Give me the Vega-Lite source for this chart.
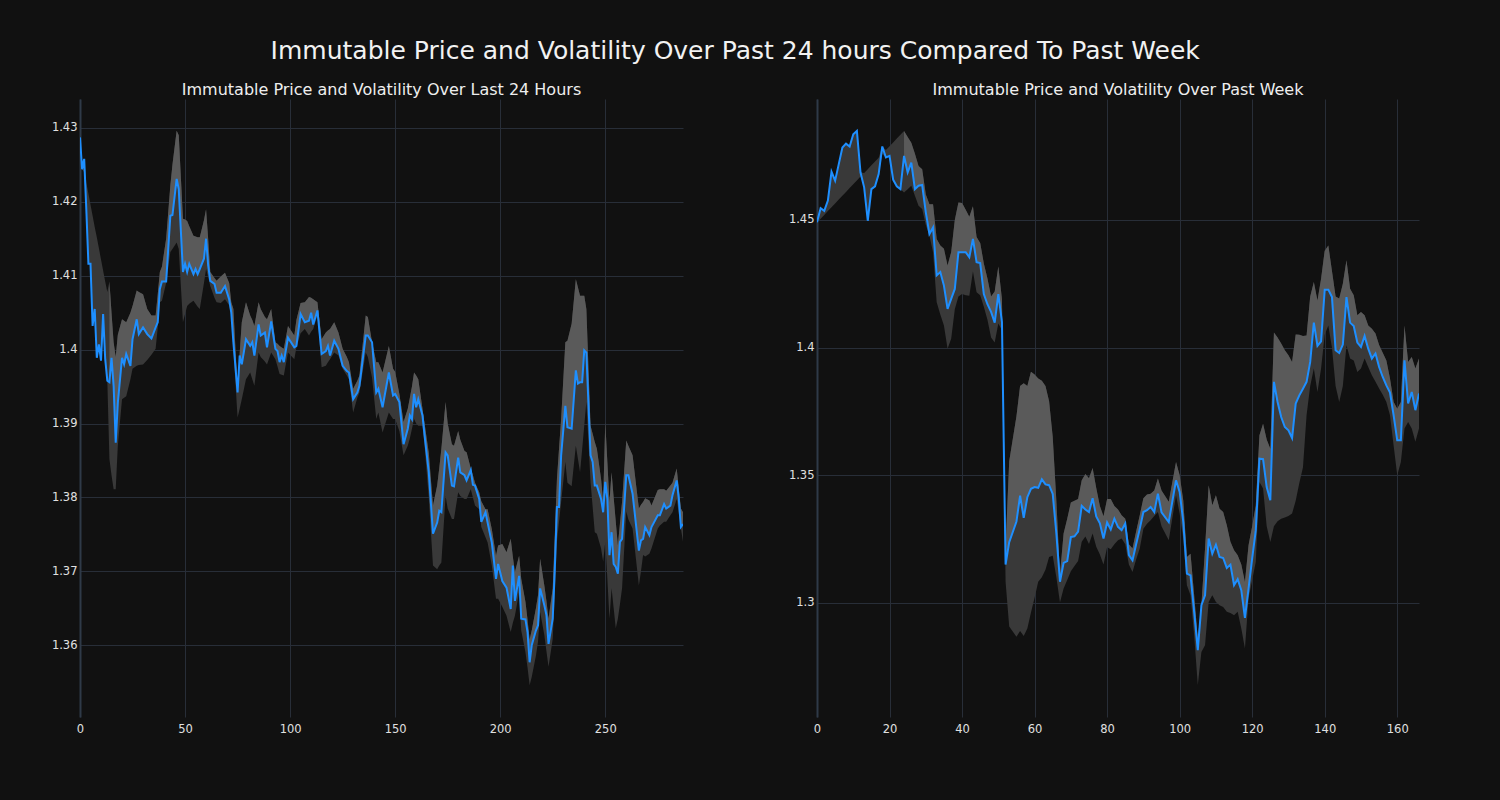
{
"$schema": "https://vega.github.io/schema/vega-lite/v6.json",
"background": "#111111",
"padding": {"left": 51, "top": 39, "right": 81, "bottom": 65},
"title": {"text": "Immutable Price and Volatility Over Past 24 hours Compared To Past Week", "fontSize": 25, "color": "#f2f2f2", "font": "DejaVu Sans", "fontWeight": "normal", "anchor": "middle", "offset": 18},
"config": {
  "view": {"stroke": null},
  "font": "DejaVu Sans",
  "axis": {"grid": true, "gridColor": "#282e38", "gridWidth": 1, "ticks": false, "labelColor": "#e0e0e0", "labelFontSize": 11.5, "labelPadding": 3, "domain": false, "title": null, "labelFont": "DejaVu Sans"},
  "axisX": {"labelPadding": 6},
  "axisY": {"domain": true, "domainColor": "#2f3a48", "domainWidth": 2},
  "title": {"font": "DejaVu Sans", "fontWeight": "normal", "color": "#eeeeee"}
},
"bounds": "flush",
"spacing": 134,
"hconcat": [
{
  "width": 603, "height": 618,
  "title": {"text": "Immutable Price and Volatility Over Last 24 Hours", "fontSize": 16, "offset": 1},
  "data": {"name": "day"},
  "layer": [
    {"mark": {"type": "area", "color": "#393939", "clip": true},
     "encoding": {
       "x": {"field": "i", "type": "quantitative", "scale": {"domain": [0, 287], "nice": false, "zero": false}, "axis": {"values": [0, 50, 100, 150, 200, 250], "labelFlush": false, "title": null}},
       "y": {"field": "lo", "type": "quantitative", "scale": {"domain": [1.3503, 1.4339], "nice": false, "zero": false}, "axis": {"values": [1.36, 1.37, 1.38, 1.39, 1.4, 1.41, 1.42, 1.43], "format": "~g", "title": null}},
       "y2": {"field": "hi"}}},
    {"transform": [{"filter": "datum.i >= 14"}],
     "mark": {"type": "area", "color": "#5a5a5a", "clip": true},
     "encoding": {
       "x": {"field": "i", "type": "quantitative", "title": null},
       "y": {"field": "p", "type": "quantitative", "title": null},
       "y2": {"field": "hi"}}},
    {"mark": {"type": "line", "color": "#1e8fff", "strokeWidth": 2, "clip": true},
     "encoding": {
       "x": {"field": "i", "type": "quantitative", "title": null},
       "y": {"field": "p", "type": "quantitative", "title": null}}}
  ]
},
{
  "width": 602, "height": 618,
  "title": {"text": "Immutable Price and Volatility Over Past Week", "fontSize": 16, "offset": 1},
  "data": {"name": "week"},
  "layer": [
    {"mark": {"type": "area", "color": "#393939", "clip": true},
     "encoding": {
       "x": {"field": "i", "type": "quantitative", "scale": {"domain": [0, 166], "nice": false, "zero": false}, "axis": {"values": [0, 20, 40, 60, 80, 100, 120, 140, 160], "labelFlush": false, "title": null}},
       "y": {"field": "lo", "type": "quantitative", "scale": {"domain": [1.2553, 1.4974], "nice": false, "zero": false}, "axis": {"values": [1.3, 1.35, 1.4, 1.45], "format": "~g", "title": null}},
       "y2": {"field": "hi"}}},
    {"transform": [{"filter": "datum.i >= 24"}],
     "mark": {"type": "area", "color": "#5a5a5a", "clip": true},
     "encoding": {
       "x": {"field": "i", "type": "quantitative", "title": null},
       "y": {"field": "p", "type": "quantitative", "title": null},
       "y2": {"field": "hi"}}},
    {"mark": {"type": "line", "color": "#1e8fff", "strokeWidth": 2, "clip": true},
     "encoding": {
       "x": {"field": "i", "type": "quantitative", "title": null},
       "y": {"field": "p", "type": "quantitative", "title": null}}}
  ]
}
],
"datasets": {
"day": [
{"i":0,"p":1.4287,"lo":1.4287,"hi":1.4287},
{"i":1,"p":1.4244,"lo":1.4244,"hi":1.4255},
{"i":2,"p":1.4258,"lo":1.4240,"hi":1.4258},
{"i":3,"p":1.4190,"lo":1.4190,"hi":1.4226},
{"i":4,"p":1.4116,"lo":1.4116,"hi":1.4211},
{"i":5,"p":1.4116,"lo":1.4116,"hi":1.4196},
{"i":6,"p":1.4032,"lo":1.4032,"hi":1.4181},
{"i":7,"p":1.4055,"lo":1.4055,"hi":1.4166},
{"i":8,"p":1.3989,"lo":1.3989,"hi":1.4152},
{"i":9,"p":1.4007,"lo":1.4007,"hi":1.4137},
{"i":10,"p":1.3985,"lo":1.3985,"hi":1.4122},
{"i":11,"p":1.4048,"lo":1.4048,"hi":1.4107},
{"i":12,"p":1.3987,"lo":1.3987,"hi":1.4092},
{"i":13,"p":1.3958,"lo":1.3958,"hi":1.4078},
{"i":14,"p":1.3956,"lo":1.3852,"hi":1.4092},
{"i":15,"p":1.3989,"lo":1.3830,"hi":1.4050},
{"i":16,"p":1.3951,"lo":1.3811,"hi":1.4010},
{"i":17,"p":1.3874,"lo":1.3811,"hi":1.3990},
{"i":18,"p":1.3928,"lo":1.3870,"hi":1.4020},
{"i":20,"p":1.3989,"lo":1.3933,"hi":1.4041},
{"i":21,"p":1.3980,"lo":1.3935,"hi":1.4039},
{"i":22,"p":1.3994,"lo":1.3937,"hi":1.4037},
{"i":24,"p":1.3978,"lo":1.3960,"hi":1.4050},
{"i":25,"p":1.4014,"lo":1.3974,"hi":1.4059},
{"i":27,"p":1.4041,"lo":1.3978,"hi":1.4080},
{"i":28,"p":1.4021,"lo":1.3979,"hi":1.4078},
{"i":30,"p":1.4030,"lo":1.3980,"hi":1.4075},
{"i":32,"p":1.4021,"lo":1.3986,"hi":1.4055},
{"i":34,"p":1.4015,"lo":1.3993,"hi":1.4046},
{"i":36,"p":1.4030,"lo":1.4001,"hi":1.4046},
{"i":37,"p":1.4037,"lo":1.4030,"hi":1.4075},
{"i":38,"p":1.4082,"lo":1.4064,"hi":1.4105},
{"i":39,"p":1.4092,"lo":1.4066,"hi":1.4112},
{"i":41,"p":1.4092,"lo":1.4090,"hi":1.4150},
{"i":43,"p":1.4181,"lo":1.4132,"hi":1.4222},
{"i":44,"p":1.4182,"lo":1.4136,"hi":1.4250},
{"i":46,"p":1.4231,"lo":1.4145,"hi":1.4296},
{"i":47,"p":1.4217,"lo":1.4136,"hi":1.4290},
{"i":49,"p":1.4105,"lo":1.4037,"hi":1.4177},
{"i":50,"p":1.4116,"lo":1.4048,"hi":1.4176},
{"i":51,"p":1.4105,"lo":1.4059,"hi":1.4174},
{"i":52,"p":1.4116,"lo":1.4062,"hi":1.4167},
{"i":54,"p":1.4102,"lo":1.4066,"hi":1.4154},
{"i":55,"p":1.4109,"lo":1.4062,"hi":1.4153},
{"i":56,"p":1.4102,"lo":1.4058,"hi":1.4152},
{"i":57,"p":1.4109,"lo":1.4055,"hi":1.4152},
{"i":59,"p":1.4123,"lo":1.4090,"hi":1.4175},
{"i":60,"p":1.4150,"lo":1.4109,"hi":1.4190},
{"i":61,"p":1.4114,"lo":1.4098,"hi":1.4150},
{"i":62,"p":1.4093,"lo":1.4086,"hi":1.4105},
{"i":64,"p":1.4089,"lo":1.4070,"hi":1.4097},
{"i":65,"p":1.4077,"lo":1.4064,"hi":1.4093},
{"i":67,"p":1.4077,"lo":1.4063,"hi":1.4099},
{"i":69,"p":1.4086,"lo":1.4068,"hi":1.4104},
{"i":71,"p":1.4068,"lo":1.4060,"hi":1.4090},
{"i":72,"p":1.4050,"lo":1.4046,"hi":1.4064},
{"i":73,"p":1.4010,"lo":1.4001,"hi":1.4055},
{"i":75,"p":1.3942,"lo":1.3908,"hi":1.3947},
{"i":76,"p":1.3992,"lo":1.3920,"hi":1.3995},
{"i":77,"p":1.3980,"lo":1.3933,"hi":1.4037},
{"i":79,"p":1.4014,"lo":1.3960,"hi":1.4064},
{"i":81,"p":1.4005,"lo":1.3969,"hi":1.4046},
{"i":82,"p":1.4010,"lo":1.3960,"hi":1.4040},
{"i":83,"p":1.3992,"lo":1.3951,"hi":1.4032},
{"i":85,"p":1.4034,"lo":1.3996,"hi":1.4064},
{"i":86,"p":1.4019,"lo":1.3990,"hi":1.4055},
{"i":88,"p":1.4023,"lo":1.3984,"hi":1.4044},
{"i":89,"p":1.4003,"lo":1.3980,"hi":1.4041},
{"i":91,"p":1.4038,"lo":1.3996,"hi":1.4055},
{"i":93,"p":1.4001,"lo":1.3987,"hi":1.4010},
{"i":94,"p":1.3998,"lo":1.3977,"hi":1.4008},
{"i":95,"p":1.3983,"lo":1.3967,"hi":1.4005},
{"i":96,"p":1.3992,"lo":1.3966,"hi":1.4003},
{"i":97,"p":1.3983,"lo":1.3965,"hi":1.4001},
{"i":99,"p":1.4016,"lo":1.3996,"hi":1.4032},
{"i":102,"p":1.4003,"lo":1.3987,"hi":1.4019},
{"i":103,"p":1.4005,"lo":1.4003,"hi":1.4040},
{"i":105,"p":1.4048,"lo":1.4022,"hi":1.4063},
{"i":107,"p":1.4037,"lo":1.4028,"hi":1.4064},
{"i":109,"p":1.4039,"lo":1.4019,"hi":1.4071},
{"i":110,"p":1.4050,"lo":1.4024,"hi":1.4070},
{"i":111,"p":1.4034,"lo":1.4028,"hi":1.4068},
{"i":113,"p":1.4053,"lo":1.4046,"hi":1.4064},
{"i":115,"p":1.3994,"lo":1.3976,"hi":1.4014},
{"i":117,"p":1.3998,"lo":1.3978,"hi":1.4023},
{"i":118,"p":1.4005,"lo":1.3983,"hi":1.4026},
{"i":119,"p":1.3992,"lo":1.3987,"hi":1.4028},
{"i":121,"p":1.4012,"lo":1.3996,"hi":1.4037},
{"i":123,"p":1.4001,"lo":1.3992,"hi":1.4023},
{"i":125,"p":1.3978,"lo":1.3974,"hi":1.4001},
{"i":127,"p":1.3971,"lo":1.3965,"hi":1.3990},
{"i":128,"p":1.3969,"lo":1.3960,"hi":1.3983},
{"i":130,"p":1.3933,"lo":1.3915,"hi":1.3947},
{"i":132,"p":1.3942,"lo":1.3935,"hi":1.3958},
{"i":133,"p":1.3951,"lo":1.3942,"hi":1.3965},
{"i":136,"p":1.4019,"lo":1.3996,"hi":1.4046},
{"i":137,"p":1.4019,"lo":1.3990,"hi":1.4044},
{"i":139,"p":1.4010,"lo":1.3962,"hi":1.4010},
{"i":141,"p":1.3942,"lo":1.3906,"hi":1.3983},
{"i":142,"p":1.3947,"lo":1.3915,"hi":1.3983},
{"i":144,"p":1.3922,"lo":1.3888,"hi":1.3969},
{"i":147,"p":1.3969,"lo":1.3915,"hi":1.4005},
{"i":149,"p":1.3938,"lo":1.3906,"hi":1.3974},
{"i":150,"p":1.3940,"lo":1.3906,"hi":1.3970},
{"i":152,"p":1.3929,"lo":1.3890,"hi":1.3940},
{"i":154,"p":1.3872,"lo":1.3857,"hi":1.3902},
{"i":156,"p":1.3893,"lo":1.3870,"hi":1.3920},
{"i":157,"p":1.3911,"lo":1.3880,"hi":1.3935},
{"i":158,"p":1.3906,"lo":1.3893,"hi":1.3950},
{"i":159,"p":1.3940,"lo":1.3906,"hi":1.3969},
{"i":160,"p":1.3922,"lo":1.3900,"hi":1.3965},
{"i":161,"p":1.3933,"lo":1.3897,"hi":1.3960},
{"i":163,"p":1.3911,"lo":1.3897,"hi":1.3920},
{"i":164,"p":1.3884,"lo":1.3870,"hi":1.3900},
{"i":166,"p":1.3834,"lo":1.3800,"hi":1.3860},
{"i":168,"p":1.3751,"lo":1.3708,"hi":1.3789},
{"i":170,"p":1.3766,"lo":1.3703,"hi":1.3816},
{"i":171,"p":1.3782,"lo":1.3708,"hi":1.3840},
{"i":172,"p":1.3780,"lo":1.3712,"hi":1.3866},
{"i":174,"p":1.3861,"lo":1.3802,"hi":1.3929},
{"i":175,"p":1.3857,"lo":1.3785,"hi":1.3900},
{"i":177,"p":1.3816,"lo":1.3771,"hi":1.3872},
{"i":178,"p":1.3815,"lo":1.3771,"hi":1.3870},
{"i":180,"p":1.3854,"lo":1.3807,"hi":1.3890},
{"i":181,"p":1.3834,"lo":1.3802,"hi":1.3878},
{"i":183,"p":1.3830,"lo":1.3798,"hi":1.3863},
{"i":184,"p":1.3823,"lo":1.3798,"hi":1.3861},
{"i":186,"p":1.3837,"lo":1.3811,"hi":1.3839},
{"i":187,"p":1.3817,"lo":1.3800,"hi":1.3830},
{"i":188,"p":1.3816,"lo":1.3789,"hi":1.3820},
{"i":190,"p":1.3798,"lo":1.3784,"hi":1.3807},
{"i":191,"p":1.3767,"lo":1.3760,"hi":1.3795},
{"i":193,"p":1.3780,"lo":1.3746,"hi":1.3784},
{"i":194,"p":1.3766,"lo":1.3739,"hi":1.3784},
{"i":196,"p":1.3739,"lo":1.3708,"hi":1.3757},
{"i":198,"p":1.3690,"lo":1.3663,"hi":1.3721},
{"i":199,"p":1.3710,"lo":1.3663,"hi":1.3735},
{"i":201,"p":1.3687,"lo":1.3652,"hi":1.3737},
{"i":203,"p":1.3678,"lo":1.3640,"hi":1.3726},
{"i":205,"p":1.3649,"lo":1.3618,"hi":1.3744},
{"i":206,"p":1.3708,"lo":1.3630,"hi":1.3720},
{"i":207,"p":1.3660,"lo":1.3640,"hi":1.3699},
{"i":209,"p":1.3694,"lo":1.3672,"hi":1.3721},
{"i":210,"p":1.3636,"lo":1.3620,"hi":1.3690},
{"i":212,"p":1.3635,"lo":1.3591,"hi":1.3659},
{"i":213,"p":1.3618,"lo":1.3570,"hi":1.3635},
{"i":214,"p":1.3577,"lo":1.3546,"hi":1.3608},
{"i":215,"p":1.3600,"lo":1.3557,"hi":1.3620},
{"i":217,"p":1.3620,"lo":1.3586,"hi":1.3650},
{"i":218,"p":1.3627,"lo":1.3605,"hi":1.3668},
{"i":219,"p":1.3677,"lo":1.3645,"hi":1.3717},
{"i":221,"p":1.3654,"lo":1.3614,"hi":1.3681},
{"i":222,"p":1.3641,"lo":1.3592,"hi":1.3660},
{"i":223,"p":1.3602,"lo":1.3571,"hi":1.3636},
{"i":225,"p":1.3636,"lo":1.3609,"hi":1.3677},
{"i":226,"p":1.3704,"lo":1.3670,"hi":1.3750},
{"i":227,"p":1.3787,"lo":1.3740,"hi":1.3825},
{"i":228,"p":1.3787,"lo":1.3767,"hi":1.3866},
{"i":229,"p":1.3857,"lo":1.3794,"hi":1.3906},
{"i":231,"p":1.3924,"lo":1.3848,"hi":1.4010},
{"i":232,"p":1.3895,"lo":1.3820,"hi":1.4012},
{"i":234,"p":1.3893,"lo":1.3815,"hi":1.4035},
{"i":236,"p":1.3972,"lo":1.3870,"hi":1.4095},
{"i":237,"p":1.3954,"lo":1.3852,"hi":1.4084},
{"i":238,"p":1.3956,"lo":1.3834,"hi":1.4073},
{"i":239,"p":1.3956,"lo":1.3865,"hi":1.4073},
{"i":240,"p":1.3999,"lo":1.3897,"hi":1.4073},
{"i":241,"p":1.3996,"lo":1.3929,"hi":1.4055},
{"i":243,"p":1.3857,"lo":1.3821,"hi":1.3897},
{"i":244,"p":1.3848,"lo":1.3787,"hi":1.3886},
{"i":245,"p":1.3816,"lo":1.3753,"hi":1.3875},
{"i":246,"p":1.3816,"lo":1.3751,"hi":1.3866},
{"i":248,"p":1.3798,"lo":1.3731,"hi":1.3825},
{"i":249,"p":1.3780,"lo":1.3713,"hi":1.3794},
{"i":250,"p":1.3821,"lo":1.3740,"hi":1.3902},
{"i":251,"p":1.3798,"lo":1.3690,"hi":1.3848},
{"i":252,"p":1.3722,"lo":1.3636,"hi":1.3794},
{"i":253,"p":1.3753,"lo":1.3677,"hi":1.3834},
{"i":254,"p":1.3710,"lo":1.3650,"hi":1.3800},
{"i":255,"p":1.3706,"lo":1.3623,"hi":1.3767},
{"i":256,"p":1.3697,"lo":1.3636,"hi":1.3735},
{"i":257,"p":1.3740,"lo":1.3656,"hi":1.3765},
{"i":258,"p":1.3744,"lo":1.3677,"hi":1.3794},
{"i":260,"p":1.3830,"lo":1.3781,"hi":1.3877},
{"i":261,"p":1.3830,"lo":1.3770,"hi":1.3870},
{"i":263,"p":1.3805,"lo":1.3758,"hi":1.3857},
{"i":266,"p":1.3728,"lo":1.3681,"hi":1.3785},
{"i":267,"p":1.3742,"lo":1.3700,"hi":1.3790},
{"i":268,"p":1.3744,"lo":1.3722,"hi":1.3794},
{"i":269,"p":1.3760,"lo":1.3720,"hi":1.3799},
{"i":271,"p":1.3749,"lo":1.3724,"hi":1.3796},
{"i":272,"p":1.3760,"lo":1.3731,"hi":1.3789},
{"i":275,"p":1.3776,"lo":1.3758,"hi":1.3810},
{"i":276,"p":1.3776,"lo":1.3762,"hi":1.3811},
{"i":278,"p":1.3791,"lo":1.3767,"hi":1.3811},
{"i":279,"p":1.3785,"lo":1.3767,"hi":1.3809},
{"i":281,"p":1.3789,"lo":1.3776,"hi":1.3816},
{"i":282,"p":1.3803,"lo":1.3780,"hi":1.3820},
{"i":284,"p":1.3823,"lo":1.3798,"hi":1.3839},
{"i":285,"p":1.3798,"lo":1.3778,"hi":1.3812},
{"i":286,"p":1.3760,"lo":1.3758,"hi":1.3785},
{"i":287,"p":1.3764,"lo":1.3740,"hi":1.3780}
],
"week": [
{"i":0,"p":1.4491,"lo":1.4490,"hi":1.4491},
{"i":1,"p":1.4546,"lo":1.4505,"hi":1.4546},
{"i":2,"p":1.4536,"lo":1.4520,"hi":1.4536},
{"i":3,"p":1.4576,"lo":1.4535,"hi":1.4576},
{"i":4,"p":1.4689,"lo":1.4550,"hi":1.4689},
{"i":5,"p":1.4654,"lo":1.4565,"hi":1.4654},
{"i":6,"p":1.4719,"lo":1.4580,"hi":1.4719},
{"i":7,"p":1.4784,"lo":1.4595,"hi":1.4784},
{"i":8,"p":1.4799,"lo":1.4610,"hi":1.4799},
{"i":9,"p":1.4788,"lo":1.4625,"hi":1.4788},
{"i":10,"p":1.4836,"lo":1.4640,"hi":1.4836},
{"i":11,"p":1.4849,"lo":1.4655,"hi":1.4849},
{"i":12,"p":1.4686,"lo":1.4670,"hi":1.4686},
{"i":13,"p":1.4628,"lo":1.4628,"hi":1.4684},
{"i":14,"p":1.4497,"lo":1.4497,"hi":1.4699},
{"i":15,"p":1.4621,"lo":1.4621,"hi":1.4714},
{"i":16,"p":1.4632,"lo":1.4632,"hi":1.4729},
{"i":17,"p":1.4680,"lo":1.4680,"hi":1.4744},
{"i":18,"p":1.4788,"lo":1.4759,"hi":1.4788},
{"i":19,"p":1.4745,"lo":1.4745,"hi":1.4774},
{"i":20,"p":1.4751,"lo":1.4751,"hi":1.4789},
{"i":21,"p":1.4658,"lo":1.4658,"hi":1.4804},
{"i":22,"p":1.4632,"lo":1.4632,"hi":1.4819},
{"i":23,"p":1.4621,"lo":1.4621,"hi":1.4834},
{"i":24,"p":1.4751,"lo":1.4608,"hi":1.4849},
{"i":25,"p":1.4686,"lo":1.4620,"hi":1.4825},
{"i":26,"p":1.4725,"lo":1.4634,"hi":1.4803},
{"i":27,"p":1.4621,"lo":1.4595,"hi":1.4760},
{"i":28,"p":1.4634,"lo":1.4556,"hi":1.4712},
{"i":29,"p":1.4637,"lo":1.4543,"hi":1.4699},
{"i":30,"p":1.4530,"lo":1.4480,"hi":1.4600},
{"i":31,"p":1.4445,"lo":1.4439,"hi":1.4562},
{"i":32,"p":1.4471,"lo":1.4374,"hi":1.4562},
{"i":33,"p":1.4283,"lo":1.4178,"hi":1.4426},
{"i":34,"p":1.4296,"lo":1.4130,"hi":1.4400},
{"i":35,"p":1.4243,"lo":1.4087,"hi":1.4387},
{"i":36,"p":1.4152,"lo":1.3996,"hi":1.4322},
{"i":37,"p":1.4191,"lo":1.4035,"hi":1.4374},
{"i":38,"p":1.4230,"lo":1.4150,"hi":1.4500},
{"i":39,"p":1.4374,"lo":1.4200,"hi":1.4569},
{"i":40,"p":1.4374,"lo":1.4210,"hi":1.4567},
{"i":41,"p":1.4374,"lo":1.4205,"hi":1.4540},
{"i":42,"p":1.4354,"lo":1.4203,"hi":1.4513},
{"i":43,"p":1.4426,"lo":1.4298,"hi":1.4554},
{"i":44,"p":1.4335,"lo":1.4217,"hi":1.4433},
{"i":45,"p":1.4331,"lo":1.4205,"hi":1.4410},
{"i":46,"p":1.4210,"lo":1.4160,"hi":1.4330},
{"i":47,"p":1.4170,"lo":1.4109,"hi":1.4271},
{"i":48,"p":1.4140,"lo":1.4040,"hi":1.4200},
{"i":49,"p":1.4098,"lo":1.4020,"hi":1.4220},
{"i":50,"p":1.4210,"lo":1.4095,"hi":1.4318},
{"i":51,"p":1.4100,"lo":1.4068,"hi":1.4190},
{"i":52,"p":1.3150,"lo":1.3083,"hi":1.3218},
{"i":53,"p":1.3238,"lo":1.2908,"hi":1.3555},
{"i":55,"p":1.3319,"lo":1.2867,"hi":1.3731},
{"i":56,"p":1.3420,"lo":1.2890,"hi":1.3850},
{"i":57,"p":1.3333,"lo":1.2870,"hi":1.3860},
{"i":58,"p":1.3414,"lo":1.2900,"hi":1.3850},
{"i":59,"p":1.3447,"lo":1.2962,"hi":1.3906},
{"i":60,"p":1.3454,"lo":1.3020,"hi":1.3895},
{"i":61,"p":1.3451,"lo":1.3083,"hi":1.3879},
{"i":62,"p":1.3484,"lo":1.3100,"hi":1.3870},
{"i":63,"p":1.3464,"lo":1.3130,"hi":1.3850},
{"i":64,"p":1.3461,"lo":1.3180,"hi":1.3790},
{"i":65,"p":1.3427,"lo":1.3185,"hi":1.3650},
{"i":66,"p":1.3272,"lo":1.3100,"hi":1.3400},
{"i":67,"p":1.3083,"lo":1.3002,"hi":1.3110},
{"i":68,"p":1.3157,"lo":1.3056,"hi":1.3272},
{"i":69,"p":1.3164,"lo":1.3090,"hi":1.3330},
{"i":70,"p":1.3258,"lo":1.3124,"hi":1.3393},
{"i":71,"p":1.3261,"lo":1.3145,"hi":1.3400},
{"i":72,"p":1.3279,"lo":1.3164,"hi":1.3407},
{"i":73,"p":1.3380,"lo":1.3240,"hi":1.3480},
{"i":74,"p":1.3366,"lo":1.3260,"hi":1.3505},
{"i":75,"p":1.3356,"lo":1.3231,"hi":1.3488},
{"i":76,"p":1.3410,"lo":1.3272,"hi":1.3528},
{"i":77,"p":1.3339,"lo":1.3220,"hi":1.3450},
{"i":78,"p":1.3312,"lo":1.3190,"hi":1.3380},
{"i":79,"p":1.3252,"lo":1.3150,"hi":1.3339},
{"i":80,"p":1.3315,"lo":1.3218,"hi":1.3407},
{"i":81,"p":1.3288,"lo":1.3210,"hi":1.3407},
{"i":82,"p":1.3330,"lo":1.3230,"hi":1.3380},
{"i":83,"p":1.3298,"lo":1.3245,"hi":1.3366},
{"i":84,"p":1.3285,"lo":1.3252,"hi":1.3343},
{"i":85,"p":1.3311,"lo":1.3230,"hi":1.3330},
{"i":86,"p":1.3187,"lo":1.3150,"hi":1.3230},
{"i":87,"p":1.3167,"lo":1.3121,"hi":1.3213},
{"i":88,"p":1.3230,"lo":1.3170,"hi":1.3280},
{"i":89,"p":1.3290,"lo":1.3213,"hi":1.3343},
{"i":90,"p":1.3356,"lo":1.3290,"hi":1.3410},
{"i":91,"p":1.3363,"lo":1.3310,"hi":1.3425},
{"i":92,"p":1.3376,"lo":1.3324,"hi":1.3428},
{"i":93,"p":1.3356,"lo":1.3340,"hi":1.3440},
{"i":94,"p":1.3428,"lo":1.3356,"hi":1.3487},
{"i":95,"p":1.3355,"lo":1.3300,"hi":1.3440},
{"i":97,"p":1.3317,"lo":1.3245,"hi":1.3396},
{"i":99,"p":1.3480,"lo":1.3422,"hi":1.3552},
{"i":100,"p":1.3435,"lo":1.3350,"hi":1.3500},
{"i":101,"p":1.3317,"lo":1.3250,"hi":1.3400},
{"i":102,"p":1.3115,"lo":1.3069,"hi":1.3180},
{"i":103,"p":1.3108,"lo":1.3030,"hi":1.3193},
{"i":104,"p":1.2965,"lo":1.2873,"hi":1.3030},
{"i":105,"p":1.2815,"lo":1.2678,"hi":1.2860},
{"i":106,"p":1.2991,"lo":1.2808,"hi":1.2991},
{"i":107,"p":1.3030,"lo":1.2834,"hi":1.3213},
{"i":108,"p":1.3252,"lo":1.3004,"hi":1.3461},
{"i":109,"p":1.3193,"lo":1.3030,"hi":1.3383},
{"i":110,"p":1.3228,"lo":1.3004,"hi":1.3422},
{"i":111,"p":1.3180,"lo":1.2991,"hi":1.3369},
{"i":112,"p":1.3176,"lo":1.2984,"hi":1.3356},
{"i":113,"p":1.3137,"lo":1.2965,"hi":1.3304},
{"i":114,"p":1.3150,"lo":1.2960,"hi":1.3240},
{"i":115,"p":1.3069,"lo":1.2952,"hi":1.3206},
{"i":116,"p":1.3093,"lo":1.2965,"hi":1.3187},
{"i":117,"p":1.3050,"lo":1.2900,"hi":1.3150},
{"i":118,"p":1.2941,"lo":1.2821,"hi":1.3082},
{"i":119,"p":1.3056,"lo":1.3017,"hi":1.3226},
{"i":120,"p":1.3174,"lo":1.3090,"hi":1.3300},
{"i":121,"p":1.3285,"lo":1.3161,"hi":1.3383},
{"i":122,"p":1.3565,"lo":1.3474,"hi":1.3657},
{"i":123,"p":1.3563,"lo":1.3448,"hi":1.3702},
{"i":124,"p":1.3454,"lo":1.3300,"hi":1.3640},
{"i":125,"p":1.3402,"lo":1.3239,"hi":1.3604},
{"i":126,"p":1.3866,"lo":1.3300,"hi":1.4059},
{"i":127,"p":1.3787,"lo":1.3320,"hi":1.4040},
{"i":128,"p":1.3728,"lo":1.3330,"hi":1.4016},
{"i":129,"p":1.3689,"lo":1.3335,"hi":1.3990},
{"i":130,"p":1.3676,"lo":1.3340,"hi":1.3970},
{"i":131,"p":1.3646,"lo":1.3350,"hi":1.3944},
{"i":132,"p":1.3781,"lo":1.3400,"hi":1.4051},
{"i":133,"p":1.3813,"lo":1.3470,"hi":1.4050},
{"i":134,"p":1.3839,"lo":1.3530,"hi":1.4046},
{"i":135,"p":1.3866,"lo":1.3735,"hi":1.4048},
{"i":136,"p":1.3944,"lo":1.3850,"hi":1.4200},
{"i":137,"p":1.4098,"lo":1.3918,"hi":1.4257},
{"i":138,"p":1.4007,"lo":1.3826,"hi":1.4185},
{"i":139,"p":1.4025,"lo":1.3918,"hi":1.4270},
{"i":140,"p":1.4227,"lo":1.4050,"hi":1.4380},
{"i":141,"p":1.4227,"lo":1.4087,"hi":1.4400},
{"i":142,"p":1.4198,"lo":1.4000,"hi":1.4300},
{"i":143,"p":1.3990,"lo":1.3850,"hi":1.4200},
{"i":144,"p":1.3979,"lo":1.3787,"hi":1.4192},
{"i":145,"p":1.4012,"lo":1.3850,"hi":1.4250},
{"i":146,"p":1.4198,"lo":1.4009,"hi":1.4342},
{"i":147,"p":1.4098,"lo":1.3957,"hi":1.4231},
{"i":148,"p":1.4085,"lo":1.3950,"hi":1.4205},
{"i":149,"p":1.4020,"lo":1.3905,"hi":1.4127},
{"i":150,"p":1.4003,"lo":1.3918,"hi":1.4140},
{"i":151,"p":1.4046,"lo":1.3957,"hi":1.4127},
{"i":152,"p":1.3996,"lo":1.3924,"hi":1.4087},
{"i":153,"p":1.3957,"lo":1.3892,"hi":1.4074},
{"i":154,"p":1.3977,"lo":1.3866,"hi":1.4055},
{"i":155,"p":1.3924,"lo":1.3840,"hi":1.4010},
{"i":156,"p":1.3885,"lo":1.3815,"hi":1.3980},
{"i":157,"p":1.3852,"lo":1.3787,"hi":1.3950},
{"i":158,"p":1.3824,"lo":1.3735,"hi":1.3879},
{"i":159,"p":1.3735,"lo":1.3617,"hi":1.3787},
{"i":160,"p":1.3637,"lo":1.3500,"hi":1.3761},
{"i":161,"p":1.3637,"lo":1.3552,"hi":1.3787},
{"i":162,"p":1.3950,"lo":1.3683,"hi":1.4087},
{"i":163,"p":1.3781,"lo":1.3709,"hi":1.3944},
{"i":164,"p":1.3826,"lo":1.3683,"hi":1.3963},
{"i":165,"p":1.3755,"lo":1.3631,"hi":1.3918},
{"i":166,"p":1.3820,"lo":1.3683,"hi":1.3957}
]
}
}
